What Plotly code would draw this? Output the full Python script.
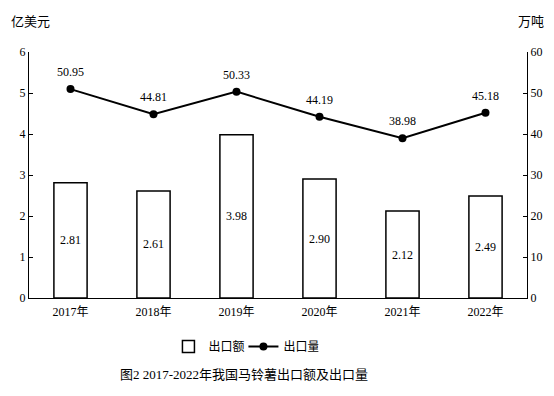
import plotly.graph_objects as go

years = ["2017年", "2018年", "2019年", "2020年", "2021年", "2022年"]
export_value = [2.81, 2.61, 3.98, 2.90, 2.12, 2.49]      # 亿美元
export_volume = [50.95, 44.81, 50.33, 44.19, 38.98, 45.18]  # 万吨

FONT = "Liberation Serif, Noto Sans CJK SC, serif"
CJK = "Noto Sans CJK SC, Liberation Serif, sans-serif"

fig = go.Figure()
fig.add_trace(go.Bar(
    x=years, y=export_value, name="出口额",
    marker=dict(color="white", line=dict(color="black", width=1.5)),
    width=0.4,
    texttemplate="%{y:.2f}", textposition="inside", insidetextanchor="middle",
    textfont=dict(family=FONT, size=12, color="black"),
    constraintext="none", cliponaxis=False,
))
fig.add_trace(go.Scatter(
    x=years, y=export_volume, name="出口量", yaxis="y2",
    mode="lines+markers",
    line=dict(color="black", width=2),
    marker=dict(color="black", size=8),
    cliponaxis=False,
))

annotations = [
    dict(x=yr, y=v, xref="x", yref="y2", text=f"{v:.2f}", showarrow=False,
         yshift=17, font=dict(family=FONT, size=12, color="black"))
    for yr, v in zip(years, export_volume)
]
annotations += [
    dict(text="亿美元", xref="paper", yref="paper", x=-0.041, y=1.13,
         xanchor="left", yanchor="middle", showarrow=False,
         font=dict(family=CJK, size=13, color="black")),
    dict(text="万吨", xref="paper", yref="paper", x=1.039, y=1.13,
         xanchor="right", yanchor="middle", showarrow=False,
         font=dict(family=CJK, size=13, color="black")),
    dict(text="图2 2017-2022年我国马铃薯出口额及出口量", xref="paper", yref="paper",
         x=0.432, y=-0.31, xanchor="center", yanchor="middle", showarrow=False,
         font=dict(family=FONT, size=13, color="black")),
]

# page body has an 8px margin, so figure is 8px smaller than the window
fig.update_layout(
    width=546, height=388,
    margin=dict(l=20.5, r=26.5, t=44, b=98, autoexpand=False),
    paper_bgcolor="white", plot_bgcolor="white",
    font=dict(family=FONT, size=12, color="black"),
    showlegend=True,
    legend=dict(orientation="h", x=0.28, xanchor="left", y=-0.138, yanchor="top",
                entrywidth=30, itemwidth=30,
                font=dict(family=CJK, size=12, color="black"), bgcolor="rgba(0,0,0,0)"),
    xaxis=dict(showline=True, linecolor="black", linewidth=1.2, ticks="", automargin=False,
               showgrid=False, tickfont=dict(family=FONT, size=12), ticklabelstandoff=2),
    yaxis=dict(range=[0, 6], dtick=1, showline=True, linecolor="black", linewidth=1.2,
               automargin=False,
               ticks="inside", ticklen=4, tickcolor="black", showgrid=False, zeroline=False,
               tickfont=dict(family=FONT, size=12)),
    yaxis2=dict(range=[0, 60], dtick=10, overlaying="y", side="right",
                showline=True, linecolor="black", linewidth=1.2, automargin=False,
                ticks="inside", ticklen=4, tickcolor="black", showgrid=False, zeroline=False,
                tickfont=dict(family=FONT, size=12)),
    annotations=annotations,
)

fig.write_html("out.html")
